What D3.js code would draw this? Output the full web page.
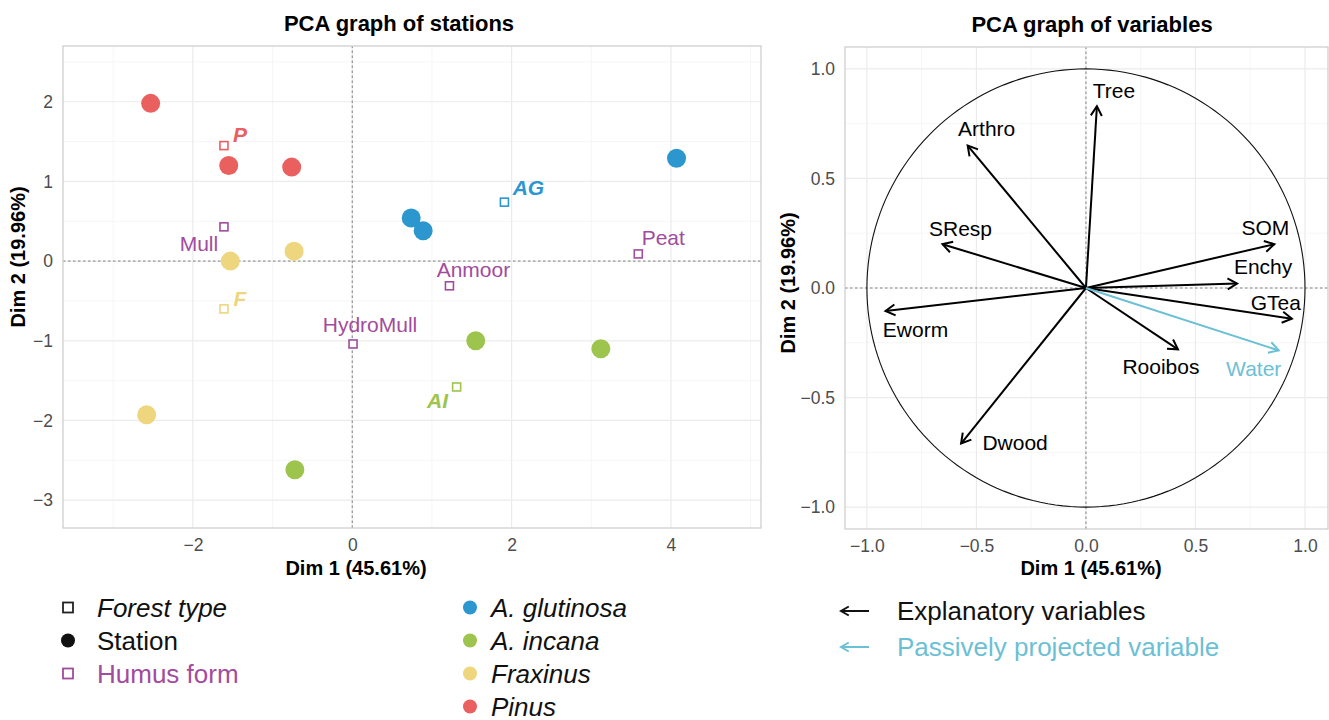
<!DOCTYPE html>
<html>
<head>
<meta charset="utf-8">
<script src="https://cdn.jsdelivr.net/npm/d3@7"></script>
<style>
  body { margin: 0; background: #fff; }
  svg text { font-family: Arial, "Liberation Sans", sans-serif; }
</style>
</head>
<body>
<svg id="chart" width="1329" height="720"></svg>
<script>
// ---- stations (individuals) ----
var stationGroup = ["Pinus", "Pinus", "Pinus", "Fraxinus", "Fraxinus", "Fraxinus",
  "A. glutinosa", "A. glutinosa", "A. glutinosa", "A. incana", "A. incana", "A. incana"];
var stationDim1 = [-2.53, -1.55, -0.76, -1.53, -0.73, -2.58, 0.74, 0.89, 4.07, 1.55, 3.12, -0.72];
var stationDim2 = [1.98, 1.20, 1.18, 0.00, 0.125, -1.93, 0.54, 0.38, 1.29, -1.00, -1.10, -2.62];

// ---- supplementary categories ----
var forestNames = ["P", "F", "AG", "AI"];
var forestGroup = ["Pinus", "Fraxinus", "A. glutinosa", "A. incana"];
var forestDim1 = [-1.61, -1.61, 1.91, 1.31];
var forestDim2 = [1.45, -0.60, 0.74, -1.58];

var humusNames = ["Mull", "HydroMull", "Anmoor", "Peat"];
var humusDim1 = [-1.61, 0.01, 1.22, 3.59];
var humusDim2 = [0.43, -1.04, -0.31, 0.09];

// ---- variables ----
var varNames = ["Tree", "Arthro", "SResp", "SOM", "Enchy", "GTea", "Eworm", "Rooibos", "Dwood", "Water"];
var varDim1 = [0.05, -0.54, -0.655, 0.86, 0.69, 0.94, -0.915, 0.42, -0.57, 0.88];
var varDim2 = [0.83, 0.65, 0.20, 0.20, 0.02, -0.14, -0.105, -0.28, -0.71, -0.285];
var varPassive = [false, false, false, false, false, false, false, false, false, true];

var groupNames = ["A. glutinosa", "A. incana", "Fraxinus", "Pinus"];
var groupColors = ["#2c96cf", "#9dc44d", "#edd67e", "#e9605f"];
var humusColor = "#a14c9e";
var passiveColor = "#6cc0d5";

var color = d3.scaleOrdinal().domain(groupNames).range(groupColors);

// label offsets in pixels (layout only)
var forestLabelOff = { P: [16, -11], F: [16, -10], AG: [24, -15], AI: [-19, 14] };
var humusLabelOff = { Mull: [-25, 17], HydroMull: [17, -19], Anmoor: [24, -16], Peat: [25, -16] };
var varLabelOff = {
  Tree: [17, -16], Arthro: [19, -17], SResp: [18, -16], SOM: [-9, -17], Enchy: [26, -17],
  GTea: [-16, -16], Eworm: [30, 18], Rooibos: [-17, 17], Dwood: [54, -1], Water: [-25, 18]
};

var svg = d3.select("#chart");
var tickColor = "#4d4d4d";

function drawFrame(g, x, y, xMajor, xMinor, yMajor, yMinor, fmt) {
  var x0 = x.range()[0], x1 = x.range()[1], y0 = y.range()[0], y1 = y.range()[1];
  g.selectAll(".gxmin").data(xMinor).enter().append("line")
    .attr("x1", d => x(d)).attr("x2", d => x(d)).attr("y1", y0).attr("y2", y1)
    .attr("stroke", "#f4f4f4").attr("stroke-width", 0.8);
  g.selectAll(".gymin").data(yMinor).enter().append("line")
    .attr("y1", d => y(d)).attr("y2", d => y(d)).attr("x1", x0).attr("x2", x1)
    .attr("stroke", "#f4f4f4").attr("stroke-width", 0.8);
  g.selectAll(".gxmaj").data(xMajor).enter().append("line")
    .attr("x1", d => x(d)).attr("x2", d => x(d)).attr("y1", y0).attr("y2", y1)
    .attr("stroke", "#ebebeb").attr("stroke-width", 1.2);
  g.selectAll(".gymaj").data(yMajor).enter().append("line")
    .attr("y1", d => y(d)).attr("y2", d => y(d)).attr("x1", x0).attr("x2", x1)
    .attr("stroke", "#ebebeb").attr("stroke-width", 1.2);

  // zero lines
  g.append("line").attr("x1", x(0)).attr("x2", x(0)).attr("y1", y0).attr("y2", y1)
    .attr("stroke", "#777").attr("stroke-width", 0.9).attr("stroke-dasharray", "2.5,2.5");
  g.append("line").attr("y1", y(0)).attr("y2", y(0)).attr("x1", x0).attr("x2", x1)
    .attr("stroke", "#777").attr("stroke-width", 0.9).attr("stroke-dasharray", "2.5,2.5");

  g.append("rect").attr("x", x0).attr("y", y1).attr("width", x1 - x0).attr("height", y0 - y1)
    .attr("fill", "none").attr("stroke", "#cfcfcf").attr("stroke-width", 1.3);

  var xAxis = d3.axisBottom(x).tickValues(xMajor).tickFormat(fmt).tickSize(0).tickPadding(11);
  var yAxis = d3.axisLeft(y).tickValues(yMajor).tickFormat(fmt).tickSize(0).tickPadding(10);
  var ga = g.append("g").attr("transform", `translate(0,${y0})`).call(xAxis);
  var gb = g.append("g").attr("transform", `translate(${x0},0)`).call(yAxis);
  [ga, gb].forEach(a => {
    a.select(".domain").remove();
    a.selectAll("text").attr("fill", tickColor).style("font-size", "17.5px")
      .style("font-family", "Arial, 'Liberation Sans', sans-serif");
  });
}

function minus(f) { return d => f(d).replace("-", "\u2212"); }

// ================= LEFT: stations =================
var xL = d3.scaleLinear().domain([-3.63, 5.13]).range([63, 761]);
var yL = d3.scaleLinear().domain([-3.35, 2.70]).range([528, 46]);
var gL = svg.append("g");
drawFrame(gL, xL, yL, [-2, 0, 2, 4], [-3, -1, 1, 3, 5], [-3, -2, -1, 0, 1, 2],
  [-2.5, -1.5, -0.5, 0.5, 1.5, 2.5], minus(d3.format("d")));

gL.append("text").attr("x", 399).attr("y", 31).attr("text-anchor", "middle")
  .style("font-size", "22px").style("font-weight", "bold").text("PCA graph of stations");
gL.append("text").attr("x", 356).attr("y", 575).attr("text-anchor", "middle")
  .style("font-size", "20px").style("font-weight", "bold").text("Dim 1 (45.61%)");
gL.append("text").attr("transform", "translate(25,257) rotate(-90)").attr("text-anchor", "middle")
  .style("font-size", "20px").style("font-weight", "bold").text("Dim 2 (19.96%)");

// station points
gL.selectAll(".st").data(stationDim1).enter().append("circle")
  .attr("cx", d => xL(d)).attr("cy", (d, i) => yL(stationDim2[i])).attr("r", 9.5)
  .attr("fill", (d, i) => color(stationGroup[i]));

// forest type squares + labels
var sq = 8;
gL.selectAll(".fsq").data(forestNames).enter().append("rect")
  .attr("x", (d, i) => xL(forestDim1[i]) - sq / 2).attr("y", (d, i) => yL(forestDim2[i]) - sq / 2)
  .attr("width", sq).attr("height", sq).attr("fill", "#fff")
  .attr("stroke", (d, i) => color(forestGroup[i])).attr("stroke-width", 1.6);
gL.selectAll(".flab").data(forestNames).enter().append("text")
  .attr("x", (d, i) => xL(forestDim1[i]) + forestLabelOff[d][0])
  .attr("y", (d, i) => yL(forestDim2[i]) + forestLabelOff[d][1])
  .attr("text-anchor", "middle").attr("dominant-baseline", "central")
  .attr("fill", (d, i) => color(forestGroup[i]))
  .style("font-size", "21px").style("font-weight", "bold").style("font-style", "italic")
  .text(d => d);

// humus form squares + labels
gL.selectAll(".hsq").data(humusNames).enter().append("rect")
  .attr("x", (d, i) => xL(humusDim1[i]) - sq / 2).attr("y", (d, i) => yL(humusDim2[i]) - sq / 2)
  .attr("width", sq).attr("height", sq).attr("fill", "#fff")
  .attr("stroke", humusColor).attr("stroke-width", 1.6);
gL.selectAll(".hlab").data(humusNames).enter().append("text")
  .attr("x", (d, i) => xL(humusDim1[i]) + humusLabelOff[d][0])
  .attr("y", (d, i) => yL(humusDim2[i]) + humusLabelOff[d][1])
  .attr("text-anchor", "middle").attr("dominant-baseline", "central")
  .attr("fill", humusColor).style("font-size", "21px")
  .text(d => d);

// ================= RIGHT: variables =================
var xR = d3.scaleLinear().domain([-1.1, 1.105]).range([845, 1328]);
var yR = d3.scaleLinear().domain([-1.1, 1.1]).range([529, 47]);
var gR = svg.append("g");
drawFrame(gR, xR, yR, [-1, -0.5, 0, 0.5, 1], [-0.75, -0.25, 0.25, 0.75],
  [-1, -0.5, 0, 0.5, 1], [-0.75, -0.25, 0.25, 0.75], minus(d3.format(".1f")));

gR.append("text").attr("x", 1092).attr("y", 32).attr("text-anchor", "middle")
  .style("font-size", "22px").style("font-weight", "bold").text("PCA graph of variables");
gR.append("text").attr("x", 1091).attr("y", 575).attr("text-anchor", "middle")
  .style("font-size", "20px").style("font-weight", "bold").text("Dim 1 (45.61%)");
gR.append("text").attr("transform", "translate(795,283) rotate(-90)").attr("text-anchor", "middle")
  .style("font-size", "20px").style("font-weight", "bold").text("Dim 2 (19.96%)");

// correlation circle
var circ = d3.range(0, 361, 2).map(a => [Math.cos(a * Math.PI / 180), Math.sin(a * Math.PI / 180)]);
gR.append("path").datum(circ)
  .attr("d", d3.line().x(d => xR(d[0])).y(d => yR(d[1])))
  .attr("fill", "none").attr("stroke", "#111").attr("stroke-width", 1.1);

function arrowHead(x1, y1, x2, y2, len) {
  var ang = Math.atan2(y2 - y1, x2 - x1), spread = Math.PI / 6;
  var a = [x2 - len * Math.cos(ang - spread), y2 - len * Math.sin(ang - spread)];
  var b = [x2 - len * Math.cos(ang + spread), y2 - len * Math.sin(ang + spread)];
  return `M${a[0]},${a[1]}L${x2},${y2}L${b[0]},${b[1]}`;
}

var arrows = gR.selectAll(".arr").data(varNames).enter().append("g");
arrows.append("line")
  .attr("x1", xR(0)).attr("y1", yR(0))
  .attr("x2", (d, i) => xR(varDim1[i])).attr("y2", (d, i) => yR(varDim2[i]))
  .attr("stroke", (d, i) => varPassive[i] ? passiveColor : "#000").attr("stroke-width", 2);
arrows.append("path")
  .attr("d", (d, i) => arrowHead(xR(0), yR(0), xR(varDim1[i]), yR(varDim2[i]), 11))
  .attr("fill", "none").attr("stroke-linejoin", "miter")
  .attr("stroke", (d, i) => varPassive[i] ? passiveColor : "#000").attr("stroke-width", 2);
arrows.append("text")
  .attr("x", (d, i) => xR(varDim1[i]) + varLabelOff[d][0])
  .attr("y", (d, i) => yR(varDim2[i]) + varLabelOff[d][1])
  .attr("text-anchor", "middle").attr("dominant-baseline", "central")
  .attr("fill", (d, i) => varPassive[i] ? passiveColor : "#000")
  .style("font-size", "21px").text(d => d);

// ================= legends =================
var legL = svg.append("g").style("font-size", "26px");
var legKeys = ["Forest type", "Station", "Humus form"];
legKeys.forEach((k, i) => {
  var yy = 607.5 + i * 33;
  if (i === 1) {
    legL.append("circle").attr("cx", 68).attr("cy", yy).attr("r", 7).attr("fill", "#111");
  } else {
    legL.append("rect").attr("x", 63).attr("y", yy - 5).attr("width", 10).attr("height", 10)
      .attr("fill", "#fff").attr("stroke", i === 0 ? "#222" : humusColor).attr("stroke-width", 1.8);
  }
  legL.append("text").attr("x", 97).attr("y", yy).attr("dominant-baseline", "central")
    .attr("fill", i === 2 ? humusColor : "#111")
    .style("font-style", i === 0 ? "italic" : "normal").text(k);
});

groupNames.forEach((k, i) => {
  var yy = 607.5 + i * 33;
  legL.append("circle").attr("cx", 470).attr("cy", yy).attr("r", 7).attr("fill", color(k));
  legL.append("text").attr("x", 491).attr("y", yy).attr("dominant-baseline", "central")
    .attr("fill", "#111").style("font-style", "italic").text(k);
});

var legR = svg.append("g").style("font-size", "26px");
["Explanatory variables", "Passively projected variable"].forEach((k, i) => {
  var yy = 611 + i * 36;
  var c = i === 0 ? "#111" : passiveColor;
  legR.append("line").attr("x1", 841).attr("x2", 869).attr("y1", yy).attr("y2", yy)
    .attr("stroke", c).attr("stroke-width", 2);
  legR.append("path").attr("d", arrowHead(869, yy, 841, yy, 9))
    .attr("fill", "none").attr("stroke", c).attr("stroke-width", 2);
  legR.append("text").attr("x", 897).attr("y", yy).attr("dominant-baseline", "central")
    .attr("fill", c).text(k);
});
</script>
</body>
</html>
